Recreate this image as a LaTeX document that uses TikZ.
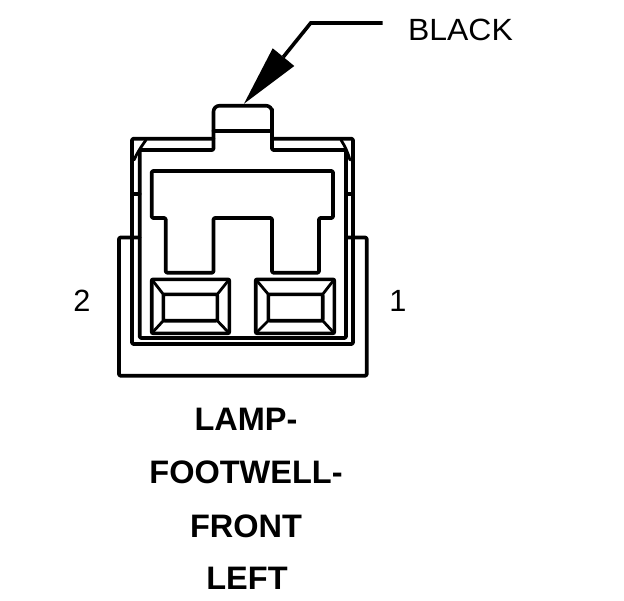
\documentclass[tikz,border=0pt]{standalone}
\usepackage{fontspec}
\setmainfont{Liberation Sans}
\tikzset{
  ln/.style={line width=3.6pt,line join=round,line cap=round,rounded corners=1.2pt},
  thinln/.style={line width=2.8pt,line cap=round},
  callout/.style={inner sep=0pt,anchor=center,xscale=1.04,font=\fontsize{30.7}{30.7}\selectfont},
  pin/.style={inner sep=0pt,anchor=center,font=\fontsize{30.7}{30.7}\selectfont},
  title/.style={inner sep=0pt,anchor=center,font=\bfseries\fontsize{32.5}{32.5}\selectfont}
}
\begin{document}
\begin{tikzpicture}[x=1pt,y=-1pt]
\useasboundingbox (0,0) rectangle (624,600);
% outer housing
\draw[ln] (213.5,138.7) -- (132,138.7) -- (132,344) -- (353,344) -- (353,138.7) -- (272,138.7);
% inner housing
\draw[ln] (139.7,237) -- (139.7,150) -- (213.5,150) -- (213.5,115) [rounded corners=6pt] -- (213.5,105.7) -- (272,105.7) -- (272,115) [rounded corners=1.2pt] -- (272,150) -- (346,150) -- (346,338) -- (139.7,338) -- (139.7,237);
\draw[ln] (213.5,130.7) -- (272,130.7);
% corner chamfers and ticks
\draw[thinln] (146,140) .. controls (141,147) and (137,153) .. (134,160);
\draw[thinln] (341,140) .. controls (345,146) and (348,153) .. (350,160);
\draw[ln] (132,194) -- (139.7,194);
\draw[ln] (346,194) -- (353,194);
% T-shaped cavity
\draw[ln] (151.7,218) -- (151.7,171) -- (333,171) -- (333,218) -- (319,218) -- (319,272.7) -- (272,272.7) -- (272,218) -- (213.5,218) -- (213.5,272.7) -- (165.7,272.7) -- (165.7,218) -- cycle;
% shroud
\draw[ln] (139.7,237.5) -- (119,237.5) -- (119,375.7) -- (366.7,375.7) -- (366.7,237.5) -- (346,237.5);
% left terminal
\draw[ln] (151.7,279.3) rectangle (229.3,333.3);
\draw[ln] (163.3,294.3) rectangle (217.3,320.7);
\draw[thinln] (151.7,279.3) -- (163.3,294.3) (229.3,279.3) -- (217.3,294.3) (151.7,333.3) -- (163.3,320.7) (229.3,333.3) -- (217.3,320.7);
% right terminal
\draw[ln] (255.7,279.3) rectangle (334.3,333.3);
\draw[ln] (268.3,294.3) rectangle (322.7,320.7);
\draw[thinln] (255.7,279.3) -- (268.3,294.3) (334.3,279.3) -- (322.7,294.3) (255.7,333.3) -- (268.3,320.7) (334.3,333.3) -- (322.7,320.7);
% leader
\coordinate (leadEnd) at (382.7,23);
\coordinate (leadBend) at (310.7,23);
\coordinate (leadTip) at (283.3,57);
\draw[line width=3.6pt] (leadEnd) -- (leadBend) -- (leadTip);
\fill[line join=round] (244,103.7) -- (272.7,48.3) -- (294.3,66) -- cycle;
% labels
\node[callout] (black) at (460.5,30) {BLACK};
\node[pin] (pinTwo) at (82,301) {2};
\node[pin] (pinOne) at (398,301) {1};
\node[title] (t1) at (246,419) {LAMP-};
\node[title] (t2) at (246,472.5) {FOOTWELL-};
\node[title] (t3) at (246,526) {FRONT};
\node[title] (t4) at (247,578.5) {LEFT};
\end{tikzpicture}
\end{document}
